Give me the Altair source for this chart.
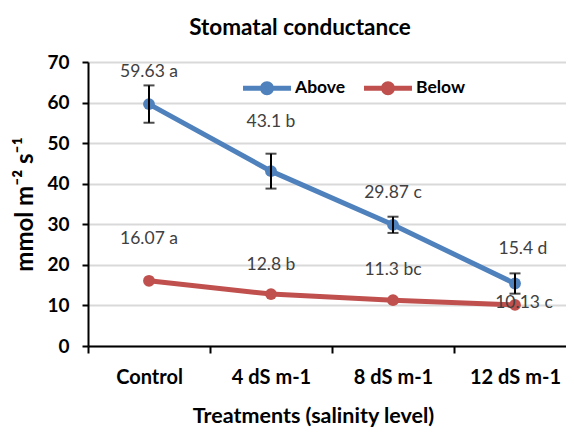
import altair as alt
import pandas as pd

treatments = ["Control", "4 dS m-1", "8 dS m-1", "12 dS m-1"]
above_vals = [59.63, 43.1, 29.87, 15.4]
below_vals = [16.07, 12.8, 11.3, 10.13]
above_err = [4.6, 4.3, 2.0, 2.5]
above_letters = ["a", "b", "c", "d"]
below_letters = ["a", "b", "bc", "c"]
series_names = ["Above", "Below"]
y_ticks = [0, 10, 20, 30, 40, 50, 60, 70]

rows = []
for i, t in enumerate(treatments):
    rows.append({"t": t, "s": "Above", "v": above_vals[i], "lo": above_vals[i] - above_err[i],
                 "hi": above_vals[i] + above_err[i], "lab": f"{above_vals[i]:g} {above_letters[i]}", "i": i})
    rows.append({"t": t, "s": "Below", "v": below_vals[i], "lo": below_vals[i],
                 "hi": below_vals[i], "lab": f"{below_vals[i]:g} {below_letters[i]}", "i": i})
df = pd.DataFrame(rows)

FONT = "Lato"
blue, red = "#4F81BD", "#C0504D"

x_enc = alt.X("t:N", sort=treatments,
              scale=alt.Scale(range=[0, 488], paddingInner=0, paddingOuter=0),
              axis=alt.Axis(title="Treatments (salinity level)", labelAngle=0, tickBand="extent",
                            grid=False, domainColor="black", domainWidth=2, tickColor="black",
                            tickWidth=2, tickSize=7, labelPadding=14, labelFont=FONT,
                            labelFontSize=20, labelFontWeight="bold", labelColor="black",
                            titleFont=FONT, titleFontSize=21.5, titleFontWeight="bold",
                            titleColor="black", titlePadding=18, titleX=225, titleAlign="center"))
y_scale = alt.Scale(domain=[0, 70], nice=False)
y_axis = alt.Axis(title="mmol m⁻² s⁻¹", values=y_ticks, grid=True, gridColor="#d9d9d9",
                  gridWidth=2, domainColor="black", domainWidth=2, tickColor="black",
                  tickWidth=2, tickSize=6, labelPadding=13, labelFont=FONT, labelFontSize=19,
                  labelFontWeight="bold", labelColor="black", titleFont=FONT, titleFontSize=24,
                  titleFontWeight="bold", titleColor="black", titlePadding=9)

color_scale = alt.Scale(domain=series_names, range=[blue, red])

sym = ("M-1,-0.1H1V0.1H-1Z "
       "M-0.29,0A0.29,0.29 0 1,1 0.29,0A0.29,0.29 0 1,1 -0.29,0Z")
legend = alt.Legend(title=None, orient="none", legendX=155, legendY=2,
                    direction="horizontal", symbolType=sym, symbolSize=2300,
                    symbolStrokeWidth=0, labelFont=FONT, labelFontSize=17.5,
                    labelFontWeight="bold", labelColor="black",
                    columnPadding=18, labelOffset=4)

base = alt.Chart(df)

lines = base.mark_line(strokeWidth=5).encode(
    x=x_enc, y=alt.Y("v:Q", scale=y_scale, axis=y_axis),
    color=alt.Color("s:N", scale=color_scale, legend=legend),
    detail="s:N")

points = base.mark_circle(size=140, opacity=1).encode(
    x=alt.X("t:N", sort=treatments), y=alt.Y("v:Q"),
    color=alt.Color("s:N", scale=color_scale, legend=legend))

err_df = df[df["s"] == "Above"]
err = alt.Chart(err_df)
err_rule = err.mark_rule(color="black", strokeWidth=2).encode(
    x=alt.X("t:N", sort=treatments), y="lo:Q", y2="hi:Q")
cap_lo = err.mark_tick(color="black", thickness=2, size=11, orient="horizontal").encode(
    x=alt.X("t:N", sort=treatments), y="lo:Q")
cap_hi = err.mark_tick(color="black", thickness=2, size=11, orient="horizontal").encode(
    x=alt.X("t:N", sort=treatments), y="hi:Q")

offsets = {
    ("Above", 0): (0, -32), ("Above", 1): (0, -49), ("Above", 2): (0, -32), ("Above", 3): (8, -35),
    ("Below", 0): (0, -42), ("Below", 1): (0, -29), ("Below", 2): (0, -30), ("Below", 3): (9, -2),
}
label_layers = []
for (s, i), (dx, dy) in offsets.items():
    label_layers.append(
        base.transform_filter((alt.datum.s == s) & (alt.datum.i == i))
        .mark_text(font=FONT, fontSize=17.5, color="#404040", dx=dx, dy=dy, baseline="middle")
        .encode(x=alt.X("t:N", sort=treatments), y=alt.Y("v:Q"), text="lab:N"))

chart = alt.layer(lines, points, err_rule, cap_lo, cap_hi, *label_layers).properties(
    width=478, height=284,
    autosize=alt.AutoSizeParams(type="none"),
    padding={"left": 80, "top": 54, "right": 0, "bottom": 84},
    title=alt.TitleParams("Stomatal conductance", font=FONT, fontSize=22.5, fontWeight="bold",
                          color="black", dx=-27, offset=14),
).configure_view(stroke=None)

chart.save("out.html", embed_options={"renderer": "svg", "actions": False})
